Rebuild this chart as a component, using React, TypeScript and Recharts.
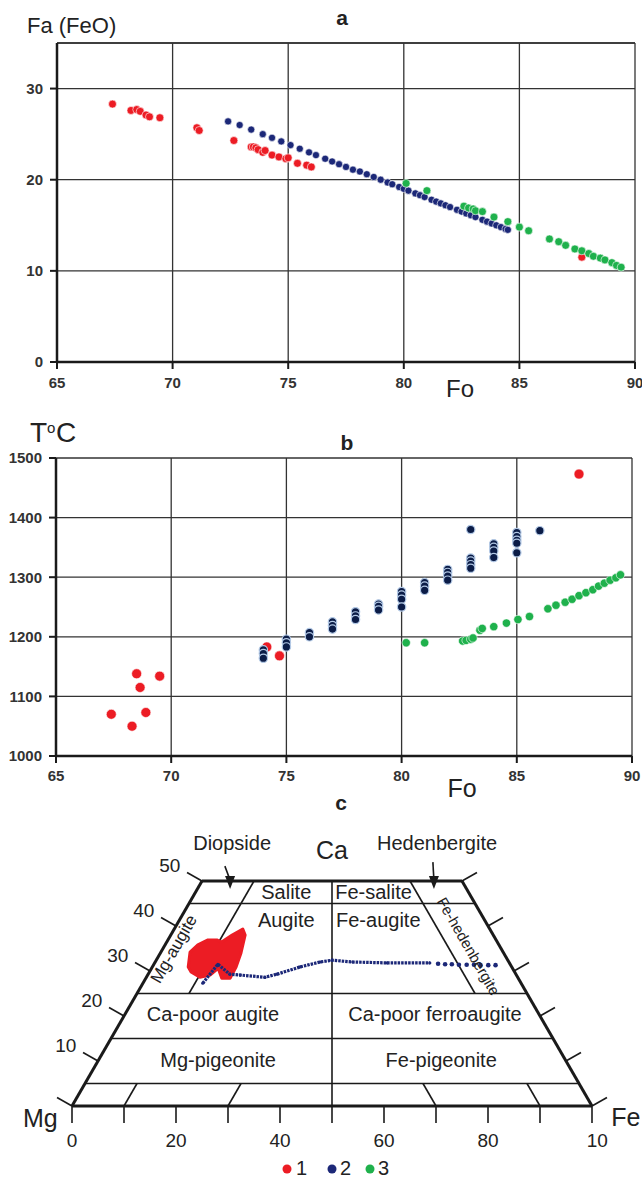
import React from 'react'
import { ScatterChart, Scatter, XAxis, YAxis, CartesianGrid, ReferenceLine } from 'recharts'

const FONT = '"Liberation Sans", Arial, Helvetica, sans-serif'
const RED = '#ec1c24'
const NAVY = '#1c2878'
const NAVY_DARK = '#0b1c47'
const NAVY_RING = '#b3c9e6'
const GREEN = '#1fb14c'
const INK = '#1a1a1a'

// ---- a: Fa (FeO) vs Fo
const foTicks = [65, 70, 75, 80, 85, 90]
const faTicks = [0, 10, 20, 30]

const aRedFo = [67.4, 68.2, 68.45, 68.6, 68.85, 69.0, 69.45, 71.05, 71.15, 72.65, 73.4, 73.5, 73.6, 73.7, 73.9, 74.0, 74.3, 74.6, 74.9, 75.0, 75.4, 75.8, 76.0, 87.7]
const aRedFa = [28.3, 27.6, 27.7, 27.5, 27.1, 26.9, 26.8, 25.7, 25.4, 24.3, 23.6, 23.6, 23.5, 23.3, 23.0, 23.2, 22.7, 22.5, 22.3, 22.4, 21.8, 21.6, 21.4, 11.5]

const aNavyFo = [72.4, 72.9, 73.4, 73.9, 74.3, 74.7, 75.1, 75.5, 75.9, 76.2, 76.6, 76.9, 77.2, 77.5, 77.8, 78.1, 78.4, 78.7, 79.0, 79.3, 79.5, 79.8, 80.0, 80.2, 80.5, 80.7, 80.9, 81.2, 81.4, 81.6, 81.8, 82.0, 82.3, 82.5, 82.7, 82.9, 83.1, 83.4, 83.6, 83.8, 84.0, 84.2, 84.4, 84.5]
const aNavyFa = [26.4, 26.0, 25.5, 25.0, 24.6, 24.2, 23.8, 23.4, 23.0, 22.7, 22.3, 22.0, 21.7, 21.4, 21.1, 20.9, 20.6, 20.3, 20.0, 19.7, 19.5, 19.2, 19.0, 18.8, 18.5, 18.3, 18.1, 17.8, 17.6, 17.4, 17.2, 17.0, 16.7, 16.5, 16.3, 16.1, 15.9, 15.6, 15.4, 15.2, 15.0, 14.8, 14.6, 14.5]

const aGreenFo = [80.1, 81.0, 82.6, 82.8, 83.0, 83.1, 83.4, 83.9, 84.5, 85.0, 85.4, 86.3, 86.7, 87.0, 87.4, 87.7, 88.0, 88.2, 88.5, 88.7, 89.0, 89.2, 89.4]
const aGreenFa = [19.6, 18.8, 17.1, 16.9, 16.8, 16.6, 16.5, 15.9, 15.4, 14.8, 14.4, 13.5, 13.2, 12.8, 12.4, 12.2, 11.9, 11.6, 11.4, 11.2, 10.9, 10.6, 10.4]

// ---- b: T °C vs Fo
const tTicks = [1000, 1100, 1200, 1300, 1400, 1500]

const bRedFo = [67.4, 68.3, 68.5, 68.65, 68.9, 69.5, 74.15, 74.7, 87.7]
const bRedT = [1070, 1050, 1138, 1115, 1073, 1134, 1183, 1168, 1473]

const bNavyFo = [74, 74, 74, 75, 75, 75, 76, 76, 77, 77, 77, 78, 78, 78, 79, 79, 79, 80, 80, 80, 80, 81, 81, 81, 82, 82, 82, 82, 83, 83, 83, 83, 83, 84, 84, 84, 84, 85, 85, 85, 85, 85, 86]
const bNavyT = [1178, 1172, 1164, 1196, 1190, 1183, 1207, 1200, 1225, 1219, 1213, 1242, 1235, 1229, 1255, 1251, 1245, 1276, 1270, 1263, 1250, 1291, 1285, 1278, 1313, 1308, 1302, 1295, 1380, 1332, 1327, 1321, 1315, 1356, 1350, 1344, 1333, 1375, 1368, 1362, 1357, 1341, 1378]

const bGreenFo = [80.2, 81.0, 82.65, 82.8, 83.0, 83.1, 83.4, 83.5, 84.0, 84.55, 85.05, 85.55, 86.35, 86.7, 87.1, 87.4, 87.7, 88.0, 88.3, 88.55, 88.8, 89.05, 89.3, 89.5]
const bGreenT = [1190, 1190, 1193, 1194, 1196, 1198, 1211, 1214, 1217, 1223, 1229, 1234, 1247, 1253, 1258, 1263, 1269, 1274, 1279, 1285, 1290, 1295, 1299, 1304]

// ---- c: pyroxene quadrilateral, Fe and Ca in mol %
const feTicks = [0, 10, 20, 30, 40, 50, 60, 70, 80, 90, 100]
const feTickLabels = ['0', '20', '40', '60', '80', '10']
const feTickLabelAt = [0, 20, 40, 60, 80, 101]
const caTicks = [0, 10, 20, 30, 40, 50]

const cBlobFe = [6.9, 5.6, 6.3, 7.7, 9.4, 10.5, 11.8, 13.2, 14.3, 15.5, 16.1, 16.2, 14.6, 12.8, 12.0, 10.3, 8.0]
const cBlobCa = [30.9, 34.2, 35.8, 36.9, 36.9, 36.4, 38.0, 39.3, 38.0, 34.0, 30.9, 28.4, 28.4, 30.6, 29.1, 28.6, 29.8]

const cLineFe = [11.5, 12.3, 15.7, 17.8, 22.8, 24.8, 28.4, 31.7, 33.8, 38.0, 44.7, 52.9]
const cLineCa = [27.3, 31.5, 29.3, 29.1, 28.6, 29.3, 30.9, 32.0, 32.4, 32.0, 31.8, 31.8]
const cDotsFe = [54.6, 56.0, 57.3, 58.7, 60.2, 61.6, 62.9, 64.4, 65.8]
const cDotsCa = [31.6, 31.5, 31.5, 31.4, 31.4, 31.4, 31.3, 31.3, 31.3]

// boundaries as [fe1, ca1, fe2, ca2]
const outerEdges = [[0, 0, 100, 0], [0, 0, 0, 50], [0, 50, 50, 50], [100, 0, 50, 50]]
const innerLines = [
  [0, 5, 95, 5], [0, 15, 85, 15], [0, 25, 75, 25], [0, 45, 55, 45],
  [50, 0, 25, 50], [10, 25, 10, 50], [65, 25, 40, 50],
  [10, 0, 10, 5], [30, 0, 30, 5], [70, 0, 65, 5], [90, 0, 85, 5],
]

const regionLabels = [
  { x: 41.2, y: 47.5, text: 'Salite' },
  { x: 41.2, y: 41.3, text: 'Augite' },
  { x: 58.0, y: 47.5, text: 'Fe-salite' },
  { x: 58.9, y: 41.3, text: 'Fe-augite' },
  { x: 27.1, y: 20.4, text: 'Ca-poor augite' },
  { x: 69.8, y: 20.4, text: 'Ca-poor ferroaugite' },
  { x: 28.1, y: 10.2, text: 'Mg-pigeonite' },
  { x: 71.0, y: 10.2, text: 'Fe-pigeonite' },
  { x: 30.8, y: 58.4, text: 'Diopside' },
  { x: 70.2, y: 58.4, text: 'Hedenbergite' },
]
const cornerLabels = [
  { x: 50, y: 57.0, text: 'Ca' },
  { x: -6.1, y: -2.6, text: 'Mg' },
  { x: 106.5, y: -2.4, text: 'Fe' },
]
const slantLabels = [
  { x: 19.6, y: 34.9, text: 'Mg-augite', angle: -60, size: 17 },
  { x: 76.3, y: 35.5, text: 'Fe-hedenbergite', angle: 60, size: 15 },
]
const arrows = [
  { x: 30.4, y: 48.2, fromX: 29.4, fromY: 53.3 },
  { x: 69.6, y: 48.2, fromX: 69.4, fromY: 54.2 },
]

const pts = (xs: number[], ys: number[]) => xs.map((x, i) => ({ x, y: ys[i] }))
const tern = (fe: number, ca: number) => ({ x: fe + ca / 2, y: ca })
const ternPts = (fes: number[], cas: number[]) => fes.map((fe, i) => tern(fe, cas[i]))

const dot = (fill: string, r: number, stroke = '#ffffff', sw = 0.6) => (p: any) => (
  <circle cx={p.cx} cy={p.cy} r={r} fill={fill} stroke={stroke} strokeWidth={sw} />
)
const none = () => <g />

const tickStyle = { fill: '#333', fontSize: 15, fontWeight: 700, fontFamily: FONT }
const axisLine = { stroke: INK, strokeWidth: 2.5 }
const tickLine = { stroke: INK, strokeWidth: 2 }

function BlobShape(props: any) {
  const p = props.points || []
  if (!p.length) return null
  const d = 'M' + p.map((q: any) => `${q.x},${q.y}`).join('L') + 'Z'
  return <path d={d} fill={RED} stroke={RED} strokeWidth={3} strokeLinejoin="round" />
}

const textShape = (size: number, weight = 400) => (p: any) => (
  <text x={p.cx} y={p.cy} textAnchor="middle" dominantBaseline="central"
    fontFamily={FONT} fontSize={size} fontWeight={weight} fill="#222"
    transform={p.payload.angle ? `rotate(${p.payload.angle} ${p.cx} ${p.cy})` : undefined}>
    {p.payload.text}
  </text>
)

const arrowHead = (p: any) => (
  <path d={`M${p.cx},${p.cy} L${p.cx - 5},${p.cy - 13} L${p.cx + 5},${p.cy - 13} Z`} fill={INK} />
)

function PanelA() {
  return (
    <ScatterChart width={642} height={400} margin={{ top: 43, right: 7, bottom: 8, left: 0 }}>
      <CartesianGrid stroke="#333" strokeWidth={1.3} />
      <XAxis type="number" dataKey="x" domain={[65, 90]} ticks={foTicks} interval={0} height={30}
        tickSize={7} tickMargin={8} axisLine={axisLine} tickLine={tickLine} tick={tickStyle} />
      <YAxis type="number" dataKey="y" domain={[0, 35]} ticks={faTicks} interval={0} width={57}
        tickSize={7} tickMargin={7} axisLine={axisLine} tickLine={tickLine} tick={tickStyle} />
      <ReferenceLine y={35} stroke="#333" strokeWidth={1.5} />
      <Scatter data={pts(aNavyFo, aNavyFa)} shape={dot(NAVY, 3.6)} isAnimationActive={false} />
      <Scatter data={pts(aRedFo, aRedFa)} shape={dot(RED, 4)} isAnimationActive={false} />
      <Scatter data={pts(aGreenFo, aGreenFa)} shape={dot(GREEN, 4)} isAnimationActive={false} />
    </ScatterChart>
  )
}

function PanelB() {
  return (
    <ScatterChart width={642} height={410} margin={{ top: 58, right: 10, bottom: 24, left: 0 }}>
      <CartesianGrid stroke="#333" strokeWidth={1.3} />
      <XAxis type="number" dataKey="x" domain={[65, 90]} ticks={foTicks} interval={0} height={30}
        tickSize={7} tickMargin={7} axisLine={axisLine} tickLine={tickLine} tick={tickStyle} />
      <YAxis type="number" dataKey="y" domain={[1000, 1500]} ticks={tTicks} interval={0} width={56}
        tickSize={7} tickMargin={7} axisLine={axisLine} tickLine={tickLine} tick={tickStyle} />
      <Scatter data={pts(bRedFo, bRedT)} shape={dot(RED, 5)} isAnimationActive={false} />
      <Scatter data={pts(bNavyFo, bNavyT)} shape={dot(NAVY_DARK, 4.2, NAVY_RING, 1.2)} isAnimationActive={false} />
      <Scatter data={pts(bGreenFo, bGreenT)} shape={dot(GREEN, 4.2)} isAnimationActive={false} />
    </ScatterChart>
  )
}

function PanelC() {
  const seg = (a: { x: number; y: number }, b: { x: number; y: number }, w: number, key: string) => (
    <ReferenceLine key={key} segment={[a, b]} stroke={INK} strokeWidth={w} />
  )
  return (
    <ScatterChart width={642} height={345} margin={{ top: 16, right: 11, bottom: 14, left: 20 }}>
      <XAxis type="number" dataKey="x" domain={[-10, 107.5]} hide />
      <YAxis type="number" dataKey="y" domain={[-10, 60]} hide />
      {innerLines.map((l, i) => seg(tern(l[0], l[1]), tern(l[2], l[3]), 1.6, `in${i}`))}
      {feTicks.map(v => seg({ x: v, y: 0 }, { x: v, y: -3.8 }, 1.6, `bt${v}`))}
      {caTicks.map(c => {
        const p = tern(0, c)
        return seg(p, { x: p.x - 2.88, y: p.y + 1.89 }, 1.6, `lt${c}`)
      })}
      {caTicks.map(c => {
        const p = tern(100 - c, c)
        return seg(p, { x: p.x + 2.88, y: p.y + 1.89 }, 1.6, `rt${c}`)
      })}
      {outerEdges.map((l, i) => seg(tern(l[0], l[1]), tern(l[2], l[3]), 3, `out${i}`))}
      {arrows.map((a, i) => seg({ x: a.fromX, y: a.fromY }, { x: a.x, y: a.y + 2 }, 1.6, `ar${i}`))}
      <Scatter data={arrows} shape={arrowHead} isAnimationActive={false} />
      <Scatter data={ternPts(cBlobFe, cBlobCa)} shape={none} line={<BlobShape />} isAnimationActive={false} />
      <Scatter data={ternPts(cLineFe, cLineCa)} fill={NAVY} shape={dot(NAVY, 1.6, 'none', 0)}
        line={{ stroke: NAVY, strokeWidth: 3.2, strokeDasharray: '2.5 1' }} isAnimationActive={false} />
      <Scatter data={ternPts(cDotsFe, cDotsCa)} shape={dot(NAVY, 2.3, 'none', 0)} isAnimationActive={false} />
      <Scatter data={regionLabels} shape={textShape(20)} isAnimationActive={false} />
      <Scatter data={cornerLabels} shape={textShape(25)} isAnimationActive={false} />
      <Scatter data={slantLabels.filter(l => l.size === 17)} shape={textShape(17)} isAnimationActive={false} />
      <Scatter data={slantLabels.filter(l => l.size === 15)} shape={textShape(15)} isAnimationActive={false} />
      <Scatter data={caTicks.slice(1).map(c => ({ x: c / 2 - 6.2, y: c + 3.5, text: String(c) }))}
        shape={textShape(19)} isAnimationActive={false} />
      <Scatter data={feTickLabels.map((t, i) => ({ x: feTickLabelAt[i], y: -7.6, text: t }))}
        shape={textShape(19)} isAnimationActive={false} />
    </ScatterChart>
  )
}

function Captions() {
  const t = { fontFamily: FONT, fill: '#222' }
  return (
    <svg width={642} height={1180} style={{ position: 'absolute', left: 0, top: 0, pointerEvents: 'none' }}>
      <text {...t} x={27} y={33} fontSize={22}>Fa (FeO)</text>
      <text {...t} x={342} y={25} fontSize={21} fontWeight={700} textAnchor="middle">a</text>
      <text {...t} x={460} y={397} fontSize={24} textAnchor="middle">Fo</text>
      <text {...t} x={30} y={442} fontSize={28}>T</text>
      <text {...t} x={47} y={433} fontSize={15}>o</text>
      <text {...t} x={56} y={442} fontSize={28}>C</text>
      <text {...t} x={347} y={450} fontSize={21} fontWeight={700} textAnchor="middle">b</text>
      <text {...t} x={462} y={797} fontSize={25} textAnchor="middle">Fo</text>
      <text {...t} x={341} y={810} fontSize={21} fontWeight={700} textAnchor="middle">c</text>
      <circle cx={287} cy={1169} r={4.5} fill={RED} />
      <text {...t} x={296} y={1175} fontSize={20}>1</text>
      <circle cx={332} cy={1169} r={4.5} fill={NAVY} />
      <text {...t} x={340} y={1175} fontSize={20}>2</text>
      <circle cx={370} cy={1169} r={4.5} fill={GREEN} />
      <text {...t} x={378} y={1175} fontSize={20}>3</text>
    </svg>
  )
}

export default function App() {
  return (
    <div style={{ position: 'absolute', left: 0, top: 0, width: 642, height: 1180, background: '#fff' }}>
      <div style={{ position: 'absolute', left: 0, top: 0 }}><PanelA /></div>
      <div style={{ position: 'absolute', left: 0, top: 400 }}><PanelB /></div>
      <div style={{ position: 'absolute', left: 0, top: 820 }}><PanelC /></div>
      <Captions />
    </div>
  )
}
